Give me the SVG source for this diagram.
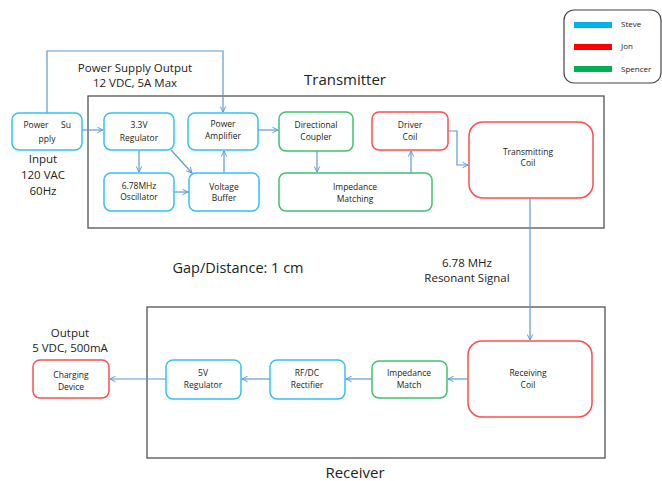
<svg xmlns="http://www.w3.org/2000/svg" width="662" height="481" viewBox="0 0 662 481">
<style>
text{font-family:"Open Sans","Liberation Sans",sans-serif;fill:#222;text-anchor:middle}
.n{font-size:8.5px}
.l{font-size:11.5px}
.t{font-size:15px}
.b{fill:#fff;stroke:#33C1F3;stroke-width:1.5}
.r{fill:#fff;stroke:#FF4D4D;stroke-width:1.5}
.g{fill:#fff;stroke:#3CC36F;stroke-width:1.5}
.c{fill:none;stroke:#5B9BD5;stroke-width:1.2}
.frame{fill:none;stroke:#444;stroke-width:1.2}
</style>
<defs>
<marker id="a" viewBox="0 0 10 10" refX="9" refY="5" markerWidth="7" markerHeight="7" orient="auto" markerUnits="userSpaceOnUse">
<path d="M1,1 L9,5 L1,9" fill="none" stroke="#5B9BD5" stroke-width="1.4"/>
</marker>
</defs>
<rect width="662" height="481" fill="#fff"/>

<g id="frames">
<rect class="frame" x="88" y="96" width="516" height="132"/>
<text class="t" x="345" y="85">Transmitter</text>
<rect class="frame" x="147" y="307" width="458" height="151"/>
<text class="t" x="355" y="478">Receiver</text>
</g>

<g id="labels">
<text class="l" x="135" y="72">Power Supply Output</text>
<text class="l" x="135" y="87">12 VDC, 5A Max</text>
<text class="l" x="43" y="163">Input</text>
<text class="l" x="43" y="179">120 VAC</text>
<text class="l" x="43" y="195">60Hz</text>
<text class="l" x="238" y="273" style="font-size:14.5px">Gap/Distance: 1 cm</text>
<text class="l" x="467" y="267">6.78 MHz</text>
<text class="l" x="467" y="282">Resonant Signal</text>
<text class="l" x="70" y="337">Output</text>
<text class="l" x="70" y="352">5 VDC, 500mA</text>
</g>

<g id="connectors">
<path class="c" d="M47,113 V51 H223 V112" marker-end="url(#a)"/>
<path class="c" d="M82,130 H103" marker-end="url(#a)"/>
<path class="c" d="M139,150 V172" marker-end="url(#a)"/>
<path class="c" d="M171,150 L192,173" marker-end="url(#a)"/>
<path class="c" d="M174,192 H188" marker-end="url(#a)"/>
<path class="c" d="M224,173 V151" marker-end="url(#a)"/>
<path class="c" d="M258,130 H278" marker-end="url(#a)"/>
<path class="c" d="M317,151 V172" marker-end="url(#a)"/>
<path class="c" d="M411,173 V151" marker-end="url(#a)"/>
<path class="c" d="M448,131 H457 V165 H468" marker-end="url(#a)"/>
<path class="c" d="M530,198 V340" marker-end="url(#a)"/>
<path class="c" d="M468,379 H448" marker-end="url(#a)"/>
<path class="c" d="M372,379 H346" marker-end="url(#a)"/>
<path class="c" d="M270,379 H242" marker-end="url(#a)"/>
<path class="c" d="M166,379 H110" marker-end="url(#a)"/>
</g>

<g id="power-supply"><rect class="b" x="12" y="113" width="70" height="37" rx="7"/>
<text class="n" y="128"><tspan x="36">Power</tspan><tspan x="66">Su</tspan></text><text class="n" x="47" y="142">pply</text></g>
<g id="regulator-33"><rect class="b" x="104" y="113" width="70" height="37" rx="7"/>
<text class="n" x="139" y="128">3.3V</text><text class="n" x="139" y="141">Regulator</text></g>
<g id="power-amplifier"><rect class="b" x="188" y="113" width="70" height="37" rx="7"/>
<text class="n" x="223" y="127">Power</text><text class="n" x="223" y="139">Amplifier</text></g>
<g id="oscillator"><rect class="b" x="104" y="173" width="70" height="38" rx="7"/>
<text class="n" x="139" y="189">6.78MHz</text><text class="n" x="139" y="200">Oscillator</text></g>
<g id="voltage-buffer"><rect class="b" x="189" y="173" width="70" height="38" rx="7"/>
<text class="n" x="224" y="190">Voltage</text><text class="n" x="224" y="201">Buffer</text></g>
<g id="directional-coupler"><rect class="g" x="279" y="112" width="74" height="39" rx="7"/>
<text class="n" x="316" y="128">Directional</text><text class="n" x="316" y="140">Coupler</text></g>
<g id="driver-coil"><rect class="r" x="372" y="112" width="76" height="38" rx="7"/>
<text class="n" x="410" y="128">Driver</text><text class="n" x="410" y="140">Coil</text></g>
<g id="impedance-matching"><rect class="g" x="279" y="173" width="153" height="38" rx="7"/>
<text class="n" x="355" y="190">Impedance</text><text class="n" x="355" y="202">Matching</text></g>
<g id="transmitting-coil"><rect class="r" x="469" y="122" width="124" height="76" rx="14"/>
<text class="n" x="528" y="155">Transmitting</text><text class="n" x="528" y="166">Coil</text></g>

<g id="receiving-coil"><rect class="r" x="468" y="341" width="124" height="76" rx="14"/>
<text class="n" x="528" y="376">Receiving</text><text class="n" x="528" y="388">Coil</text></g>
<g id="impedance-match"><rect class="g" x="372" y="361" width="75" height="37" rx="7"/>
<text class="n" x="409" y="376">Impedance</text><text class="n" x="409" y="388">Match</text></g>
<g id="rfdc-rectifier"><rect class="b" x="270" y="360" width="75" height="39" rx="7"/>
<text class="n" x="307" y="376">RF/DC</text><text class="n" x="307" y="388">Rectifier</text></g>
<g id="regulator-5v"><rect class="b" x="166" y="360" width="75" height="39" rx="7"/>
<text class="n" x="203" y="376">5V</text><text class="n" x="203" y="388">Regulator</text></g>
<g id="charging-device"><rect class="r" x="33" y="360" width="76" height="38" rx="7"/>
<text class="n" x="71" y="378">Charging</text><text class="n" x="71" y="390">Device</text></g>

<g id="legend">
<rect x="564" y="10" width="97" height="73" rx="10" fill="#fff" stroke="#444" stroke-width="1.2"/>
<rect x="574" y="22" width="38" height="6" fill="#00B0F0"/>
<rect x="574" y="44" width="38" height="6" fill="#FF0000"/>
<rect x="574" y="66" width="38" height="6" fill="#00B050"/>
<text class="n" x="621" y="27" style="text-anchor:start;font-size:8px">Steve</text>
<text class="n" x="621" y="49" style="text-anchor:start;font-size:8px">Jon</text>
<text class="n" x="621" y="72" style="text-anchor:start;font-size:8px">Spencer</text>
</g>
</svg>
